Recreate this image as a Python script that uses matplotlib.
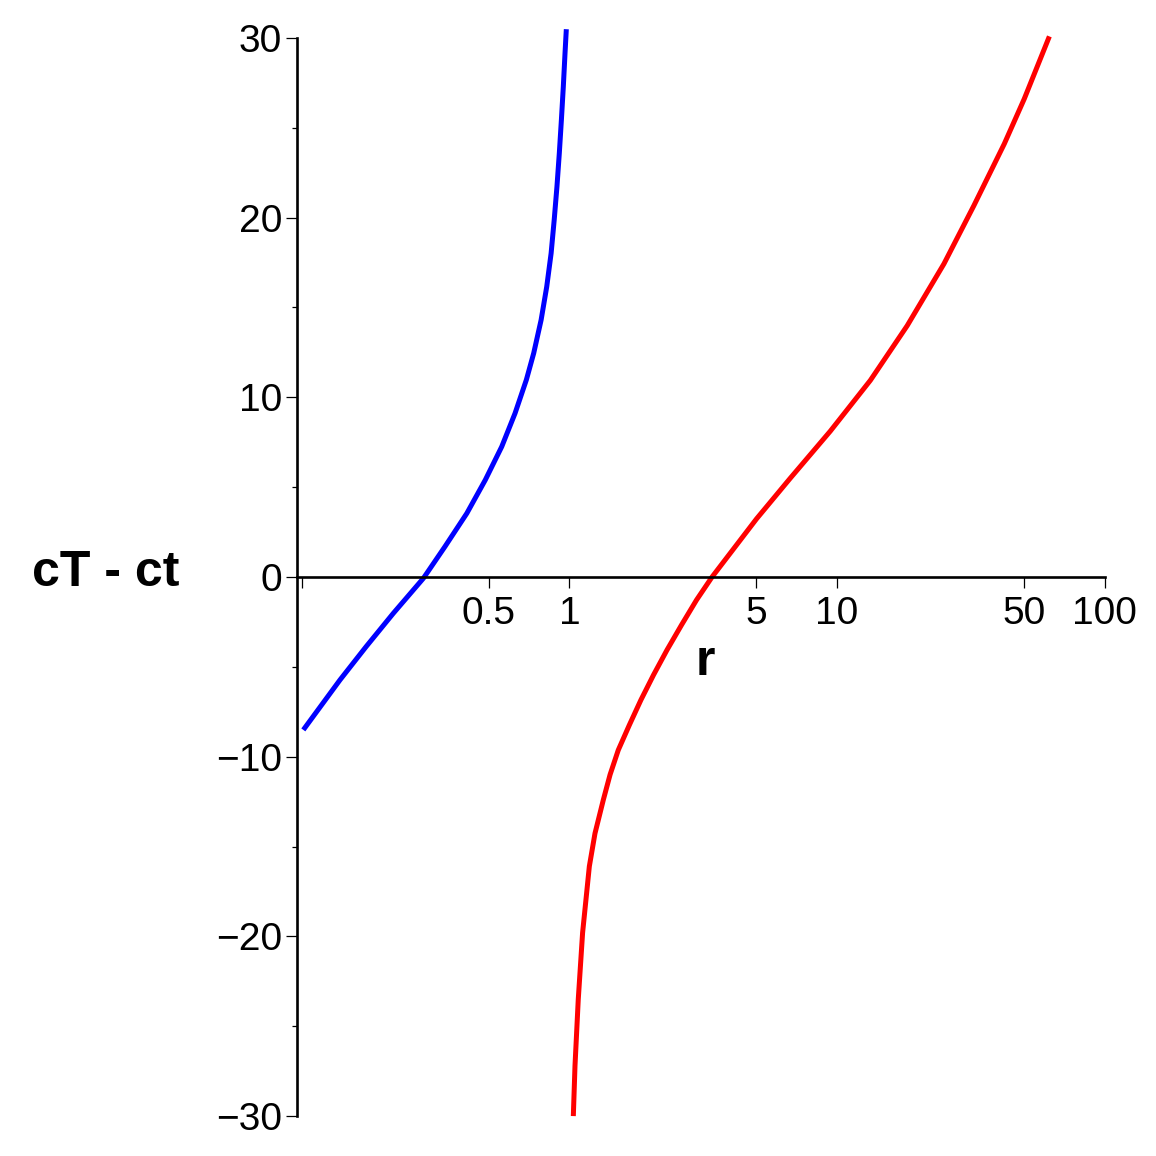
import numpy as np
import matplotlib.pyplot as plt

plt.rcParams['font.family'] = ['Liberation Sans', 'DejaVu Sans']

# values
r_inside = [0.1014, 0.139, 0.174, 0.220, 0.285, 0.343, 0.414, 0.4854, 0.559,
            0.627, 0.691, 0.736, 0.7845, 0.8233, 0.855, 0.878, 0.899, 0.9175,
            0.934, 0.9497, 0.9636, 0.9745]
dt_inside = [-8.51, -5.73, -3.88, -2.02, -0.07, 1.69, 3.54, 5.40, 7.25,
             9.11, 10.97, 12.45, 14.3, 16.15, 18.01, 19.87, 21.72, 23.58,
             25.43, 27.29, 29.14, 30.48]

r_outside = [1.035, 1.050, 1.080, 1.121, 1.188, 1.247, 1.340, 1.420, 1.524,
             1.676, 1.852, 2.064, 2.318, 2.626, 2.988, 3.415, 5.01, 6.68,
             9.44, 13.33, 18.3, 25.1, 32.5, 42.2, 50.1, 62.2]
dt_outside = [-30.0, -27.2, -23.5, -19.8, -16.1, -14.27, -12.4, -11.0, -9.63,
              -8.24, -6.84, -5.45, -4.06, -2.67, -1.28, 0.0, 3.24, 5.48,
              8.11, 10.94, 13.98, 17.42, 20.67, 24.1, 26.6, 30.08]

x_ticks = [0.1, 0.5, 1, 5, 10, 50, 100]
x_ticklabels = ['', '0.5', '1', '5', '10', '50', '100']
y_ticks = [-30, -20, -10, 0, 10, 20, 30]
y_minor = [-25, -15, -5, 5, 15, 25]

fig = plt.figure(figsize=(11.56, 11.56), dpi=100)
ax = fig.add_axes([0.2572, 0.0252, 0.6983, 0.9514])

ax.plot(r_inside, dt_inside, color='#0000ff', lw=3.6, solid_capstyle='butt',
        solid_joinstyle='round', clip_on=False)
ax.plot(r_outside, dt_outside, color='#ff0000', lw=3.6, solid_capstyle='butt',
        solid_joinstyle='round', clip_on=False)

ax.set_xscale('log')
ax.set_xlim(0.0963, 100)
ax.set_ylim(-30.6, 30.6)

for s in ['top', 'right']:
    ax.spines[s].set_visible(False)
ax.spines['bottom'].set_position(('data', 0))
ax.spines['left'].set_bounds(-30, 30)
ax.spines['left'].set_linewidth(1.9)
ax.spines['bottom'].set_linewidth(1.9)

ax.set_xticks(x_ticks)
ax.set_xticklabels(x_ticklabels)
ax.xaxis.set_minor_locator(plt.NullLocator())
ax.set_yticks(y_ticks)
ax.set_yticks(y_minor, minor=True)
ax.tick_params(axis='x', which='major', direction='out', length=7.9, width=0.9,
               labelsize=28, pad=6)
ax.tick_params(axis='y', which='major', direction='out', length=7.9, width=0.9,
               labelsize=28, pad=3)
ax.tick_params(axis='y', which='minor', direction='out', length=3.6, width=0.9)

ax.annotate('r', xy=(0.5, 0), xycoords=('axes fraction', 'data'),
            xytext=(4, -85), textcoords='offset pixels', ha='center', va='center',
            fontsize=36, fontweight='bold')
ax.annotate('cT - ct', xy=(0, 0), xycoords=('axes fraction', 'data'),
            xytext=(-192, 4), textcoords='offset pixels', ha='center', va='center',
            fontsize=36, fontweight='bold')

fig.savefig('out.png', dpi=100)
